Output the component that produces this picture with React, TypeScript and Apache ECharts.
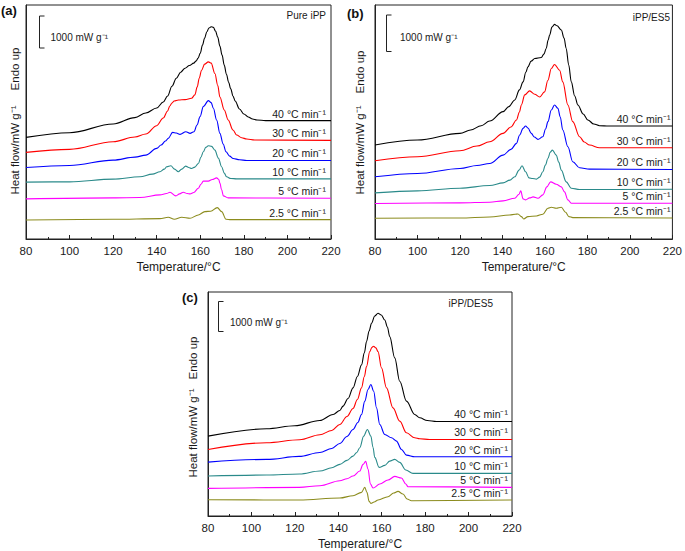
import React, { useEffect, useRef } from "react";
import * as echarts from "echarts";

// ---------- data (temperature °C, heat flow mW g^-1 with vertical offsets) ----------
const RATE_LABELS = ["40 °C min⁻¹", "30 °C min⁻¹", "20 °C min⁻¹", "10 °C min⁻¹", "5 °C min⁻¹", "2.5 °C min⁻¹"];
const PANEL_TAGS = ["(a)", "(b)", "(c)"];
const PANEL_NAMES = ["Pure iPP", "iPP/ES5", "iPP/DES5"];
const X_MIN = 80;
const X_MAX = 220;
const X_STEP = 20;
const Y_MAX = [7000, 7000, 6730];

// Panel (a) Pure iPP
const A40 = [[80,3040],[100,3180],[120,3440],[130,3630],[135,3770],[140,3920],[143,4100],[145,4280],[147,4570],[149,4810],[151,4990],[153,5110],[155,5190],[157,5260],[158,5320],[159,5410],[160,5560],[161,5800],[162,6010],[163,6200],[164,6310],[165,6350],[166,6330],[167,6220],[168,6040],[169,5770],[170,5500],[171,5200],[172,4930],[173,4690],[174,4490],[175,4280],[176,4130],[178,3890],[180,3740],[182,3650],[184,3590],[186,3560],[190,3540],[220,3540]];
const A30 = [[80,2590],[100,2680],[120,2910],[130,3050],[135,3140],[140,3390],[143,3620],[145,3830],[146,3980],[147,4070],[148,4130],[150,4160],[153,4170],[156,4210],[157.5,4310],[158.6,4550],[159.5,4810],[160.6,5050],[162,5230],[163.7,5300],[165,5260],[166.7,4950],[168,4600],[169,4250],[171,3860],[172.8,3560],[175,3260],[176.7,3110],[179,3030],[181.3,2990],[185,2960],[220,2950]];
const A20 = [[80,2140],[100,2200],[120,2360],[130,2450],[135,2510],[140,2710],[142,2810],[144,2930],[145.3,3010],[147.3,3190],[149,3170],[150.7,3130],[153.4,3210],[155.3,3160],[157.1,3210],[158.5,3410],[159.9,3660],[161.4,3960],[163.7,4140],[165,4080],[166,3910],[167.5,3560],[169,3160],[170.5,2840],[171.8,2610],[173.5,2480],[175.1,2410],[178,2370],[181.3,2350],[220,2350]];
const A10 = [[80,1700],[100,1710],[120,1790],[132.3,1860],[138,1940],[141.5,2010],[143.5,2090],[144.6,2160],[146.5,2190],[148.2,2090],[149.9,2010],[151.5,2090],[153.3,2180],[154.7,2140],[156,2110],[157.5,2150],[159.1,2260],[160.3,2450],[161.4,2610],[162.5,2740],[163.7,2790],[165.2,2770],[166.7,2660],[168.3,2420],[169.8,2160],[171,1970],[172.1,1860],[174,1810],[176.7,1800],[220,1800]];
const A5 = [[80,1200],[120,1230],[132.3,1240],[141.5,1320],[144.5,1360],[146.1,1400],[148.8,1290],[150.5,1350],[152.2,1400],[154,1360],[155.3,1350],[157,1390],[159.1,1520],[160.3,1640],[161.4,1730],[163.7,1730],[165.5,1780],[167.5,1830],[168.5,1780],[169,1670],[169.8,1470],[170.6,1290],[172.8,1230],[220,1220]];
const A25 = [[80,570],[120,590],[141.5,610],[145.3,650],[148.1,590],[151.5,650],[155.3,620],[159.1,720],[162.1,820],[164.8,830],[167.8,940],[169.8,820],[171.8,590],[174,580],[220,580]];

// Panel (b) iPP/ES5
const B40 = [[80,2810],[100,2960],[120,3160],[125,3260],[130,3390],[134,3530],[140.3,3810],[143,3960],[145.8,4160],[148,4460],[149.7,4700],[151,4990],[152,5150],[153.5,5320],[155.2,5400],[158.3,5430],[159.5,5530],[160.6,5700],[161.5,5950],[162.2,6100],[163.3,6340],[164.5,6420],[165.7,6380],[167.7,6250],[169,6010],[170,5700],[171.2,5200],[172.4,4700],[174,4280],[175.5,4010],[178,3740],[180.2,3560],[183,3440],[185.7,3390],[190,3380],[220,3380]];
const B30 = [[80,2340],[100,2460],[120,2640],[128,2780],[134,2910],[140.3,3160],[144,3350],[146.6,3560],[148,3800],[148.9,4010],[150.5,4310],[152.8,4430],[155.2,4330],[157.5,4250],[159.8,4400],[161.4,4750],[163,5100],[164.5,5220],[166.9,5050],[168.4,4700],[170.8,4010],[173.1,3510],[176.3,3060],[178.5,2900],[181,2810],[185.7,2730],[220,2730]];
const B20 = [[80,1860],[100,1960],[120,2110],[128,2200],[134,2260],[140.3,2510],[144,2680],[146.6,2860],[148.1,3110],[149.7,3310],[150.9,3380],[152,3320],[153.6,3160],[155,3050],[156.7,2980],[159,3060],[160.3,3290],[161.4,3510],[163,3860],[164.5,4010],[166.1,3910],[167.2,3650],[168.4,3260],[170.8,2760],[173.1,2310],[176.3,2130],[181,2090],[220,2080]];
const B10 = [[80,1380],[100,1440],[120,1520],[134,1600],[140.3,1680],[143.5,1760],[145.8,1860],[147.8,2060],[149.2,2190],[150.9,2010],[152.5,1830],[154.2,1810],[156,1790],[157.5,1850],[159,2010],[160.2,2210],[161.4,2410],[162.5,2600],[163.5,2660],[165.3,2510],[166.5,2300],[167.7,2060],[170,1710],[172.4,1520],[176.3,1480],[220,1490]];
const B5 = [[80,1060],[120,1080],[134,1100],[140.3,1140],[145.8,1220],[147.8,1340],[148.6,1440],[149.7,1200],[150.9,1170],[152.8,1230],[154.4,1260],[156.7,1220],[159,1320],[160.9,1560],[162.7,1710],[165.3,1640],[167.7,1560],[169.2,1410],[170.8,1170],[172.4,1070],[220,1070]];
const B25 = [[80,620],[120,630],[134,660],[143.4,720],[146,740],[147.3,750],[148.9,670],[150,600],[152,670],[156,690],[159,740],[161.4,920],[163,950],[165.3,920],[167.7,950],[169.7,800],[171.3,670],[173.1,640],[220,630]];

// Panel (c) iPP/DES5
const C40 = [[80,2400],[107,2620],[120,2710],[131.5,2870],[137.6,3050],[140.7,3170],[142.2,3300],[144.5,3530],[146.8,3850],[148.8,4190],[150.7,4540],[152,4900],[153,5240],[154.2,5560],[155.3,5790],[156.8,6010],[158.3,6090],[159.8,6040],[161.4,5890],[162.6,5680],[163.7,5390],[166,4750],[168.3,4050],[171.4,3450],[175.2,3050],[177.5,2950],[181,2870],[185.2,2840],[220,2840]];
const C30 = [[80,2000],[107,2200],[122.2,2290],[131.5,2440],[137,2570],[140.7,2750],[144,2990],[146.8,3230],[148.8,3500],[150.7,3850],[152,4190],[153,4490],[154.5,4940],[155.5,5070],[156.3,5100],[157.3,5050],[158.3,4940],[159.9,4450],[162.2,3850],[165.2,3250],[168.3,2850],[171.4,2500],[175.2,2350],[177.5,2320],[182,2300],[220,2300]];
const C20 = [[80,1620],[107,1700],[122,1790],[131.5,1910],[137,2030],[140.7,2180],[144,2390],[146.8,2600],[149,2810],[150.7,3050],[152.2,3450],[153.7,3800],[155,3950],[156.3,3750],[157.6,3250],[159.1,2750],[161.4,2450],[164.5,2350],[166.8,2250],[169.1,2000],[171.4,1830],[175.2,1780],[220,1780]];
const C10 = [[80,1200],[107,1230],[122.2,1260],[131.5,1350],[137,1450],[140.7,1550],[144,1670],[146.8,1800],[148.5,1910],[149.9,2050],[151.7,2400],[153.4,2600],[155,2400],[156,2060],[156.8,1760],[158.8,1460],[161.4,1520],[163.7,1650],[166,1700],[168.3,1610],[171.1,1380],[174.4,1280],[220,1280]];
const C5 = [[80,830],[122,860],[131.5,910],[140.7,1060],[144,1120],[146.8,1200],[149.9,1350],[151.4,1550],[152.6,1640],[153.7,1410],[154.8,960],[156,840],[159.1,960],[162.9,1080],[166,1190],[169.1,1140],[171.1,960],[172.1,880],[220,860]];
const C25 = [[80,490],[122,480],[140.7,540],[146.8,610],[150.7,710],[152.2,860],[153.2,710],[154.2,440],[155,380],[156.5,420],[158.3,480],[162.9,580],[165.5,690],[167.5,740],[169.8,660],[171.7,510],[173.7,460],[220,480]];

const PANEL_DATA = [
  [A40, A30, A20, A10, A5, A25],
  [B40, B30, B20, B10, B5, B25],
  [C40, C30, C20, C10, C5, C25],
];

// ---------- styling / layout ----------
const COLORS = ["#000000", "#ff0000", "#0000ff", "#2a8a8a", "#ff00ff", "#8c8c1e"];
const FONT = "'Liberation Sans', Arial, Helvetica, sans-serif";
const TEXT = "#1a1a1a";
const GRIDS = [
  { left: 26, top: 5, width: 305, height: 234 },
  { left: 375, top: 5, width: 298, height: 234 },
  { left: 208, top: 292, width: 304, height: 225 },
];
const LABEL_DIST = [5, 2, 4];
const TAG_POS = [[1, 10], [347, 13], [182, 297]];
const NAME_POS = [[326, 15], [670, 17], [493, 303]];
const BAR = [
  { x: 39.5, y1: 16, y2: 48, tx: 50.5, ty: 37 },
  { x: 386.5, y1: 15, y2: 51.5, tx: 400, ty: 37 },
  { x: 218.5, y1: 301.5, y2: 331.5, tx: 230, ty: 322 },
];
const YLAB = [
  { x: 15, endo: 69, heat: 150 },
  { x: 360, endo: 72, heat: 150 },
  { x: 193, endo: 358, heat: 433 },
];

export default function App() {
  const ref = useRef<HTMLDivElement>(null);
  useEffect(() => {
    if (!ref.current) return;
    const chart = echarts.init(ref.current, undefined, { renderer: "svg" });

    const xAxes: any[] = [];
    const yAxes: any[] = [];
    const series: any[] = [];
    const graphic: any[] = [];

    GRIDS.forEach((g, p) => {
      xAxes.push({
        gridIndex: p,
        type: "value",
        min: X_MIN,
        max: X_MAX,
        interval: X_STEP,
        name: "Temperature/°C",
        nameLocation: "middle",
        nameGap: 22,
        nameTextStyle: { fontFamily: FONT, fontSize: 12, color: TEXT },
        axisLine: { lineStyle: { color: "#222", width: 1 } },
        axisTick: { inside: true, length: 4, lineStyle: { color: "#222" } },
        minorTick: { show: true, splitNumber: 2, length: 2, lineStyle: { color: "#222" } },
        axisLabel: { fontFamily: FONT, fontSize: 11.5, color: TEXT, margin: 6 },
        splitLine: { show: false },
      });
      yAxes.push({
        gridIndex: p,
        type: "value",
        min: 0,
        max: Y_MAX[p],
        axisLine: { show: true, lineStyle: { color: "#222", width: 1 } },
        axisTick: { show: false },
        axisLabel: { show: false },
        splitLine: { show: false },
      });
      PANEL_DATA[p].forEach((data, i) => {
        const last = data[data.length - 1];
        series.push({
          type: "line",
          xAxisIndex: p,
          yAxisIndex: p,
          data,
          showSymbol: false,
          smooth: 0.35,
          smoothMonotone: "x",
          lineStyle: { color: COLORS[i], width: 1.1 },
          itemStyle: { color: COLORS[i] },
          silent: true,
          markPoint: {
            symbol: "circle",
            symbolSize: 0,
            silent: true,
            data: [{ coord: [last[0], last[1]], value: RATE_LABELS[i] }],
            label: {
              show: true,
              position: "left",
              distance: LABEL_DIST[p],
              offset: [0, -7],
              formatter: RATE_LABELS[i],
              fontFamily: FONT,
              fontSize: 10.5,
              color: TEXT,
            },
          },
        });
      });

      graphic.push({
        type: "text",
        x: TAG_POS[p][0],
        y: TAG_POS[p][1],
        style: { text: PANEL_TAGS[p], fontFamily: FONT, fontSize: 13, fontWeight: "bold", fill: "#111", textVerticalAlign: "middle" },
      });
      graphic.push({
        type: "text",
        x: NAME_POS[p][0],
        y: NAME_POS[p][1],
        style: { text: PANEL_NAMES[p], fontFamily: FONT, fontSize: 10, fill: TEXT, textAlign: "right", textVerticalAlign: "middle" },
      });
      const b = BAR[p];
      graphic.push({
        type: "polyline",
        shape: { points: [[b.x + 5, b.y1], [b.x, b.y1], [b.x, b.y2], [b.x + 5, b.y2]] },
        style: { stroke: "#222", lineWidth: 1, fill: "none" },
      });
      graphic.push({
        type: "text",
        x: b.tx,
        y: b.ty,
        style: { text: "1000 mW g⁻¹", fontFamily: FONT, fontSize: 10, fill: TEXT, textVerticalAlign: "middle" },
      });
      const yl = YLAB[p];
      graphic.push({
        type: "text",
        x: yl.x,
        y: yl.endo,
        rotation: Math.PI / 2,
        style: { text: "Endo up", fontFamily: FONT, fontSize: 11.5, fill: TEXT, textAlign: "center", textVerticalAlign: "middle" },
      });
      graphic.push({
        type: "text",
        x: yl.x,
        y: yl.heat,
        rotation: Math.PI / 2,
        style: { text: "Heat flow/mW g⁻¹", fontFamily: FONT, fontSize: 11.5, fill: TEXT, textAlign: "center", textVerticalAlign: "middle" },
      });
    });

    chart.setOption({
      animation: false,
      backgroundColor: "#ffffff",
      grid: GRIDS.map((g) => ({ ...g, show: true, borderColor: "#222", borderWidth: 1, backgroundColor: "transparent" })),
      xAxis: xAxes,
      yAxis: yAxes,
      series,
      graphic,
    });
    return () => chart.dispose();
  }, []);

  return <div ref={ref} style={{ position: "fixed", left: 0, top: 0, width: 685, height: 551 }} />;
}
